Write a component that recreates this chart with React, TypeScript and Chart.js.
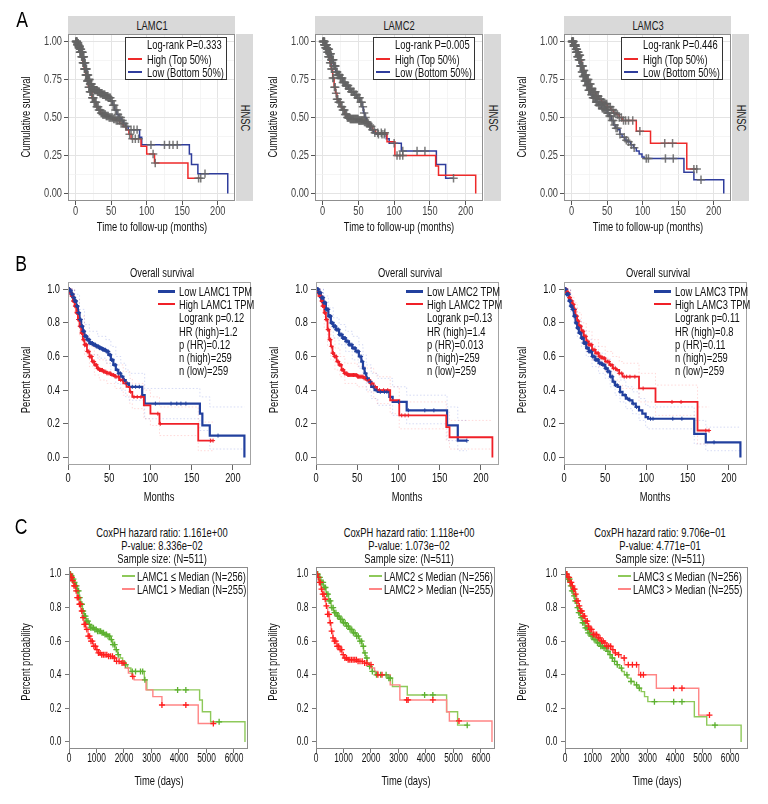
import React, { useEffect, useRef } from 'react';
import { Chart, registerables } from 'chart.js';

Chart.register(...registerables);

const FONT = '"Liberation Sans", Arial, Helvetica, sans-serif';

type P = [number, number];

// ---------------- Survival curves in months (rows A and B) ----------------
const LAMC1_LOW: P[] = [[0,1],[2,0.99],[4,0.97],[6,0.95],[8,0.93],[10,0.9],[12,0.86],[14,0.82],[16,0.78],[18,0.75],[20,0.72],[23,0.7],[26,0.68],[30,0.67],[34,0.66],[38,0.65],[42,0.64],[46,0.63],[49,0.61],[52,0.58],[55,0.55],[58,0.52],[61,0.5],[64,0.48],[67,0.46],[70,0.44],[74,0.42],[90,0.37],[93,0.32],[160,0.26],[163,0.19],[172,0.13],[214,0]];
const LAMC1_HIGH: P[] = [[0,1],[2,0.98],[4,0.96],[6,0.93],[8,0.9],[10,0.86],[12,0.82],[14,0.78],[16,0.74],[18,0.7],[20,0.67],[23,0.63],[26,0.6],[29,0.57],[32,0.55],[35,0.53],[38,0.52],[42,0.51],[47,0.5],[52,0.49],[57,0.48],[62,0.46],[67,0.44],[71,0.42],[75,0.39],[78,0.36],[92,0.31],[100,0.26],[111,0.2],[158,0.1],[176,0.1]];
const LAMC2_LOW: P[] = [[0,1],[3,0.98],[6,0.95],[9,0.92],[12,0.88],[15,0.84],[18,0.8],[21,0.78],[24,0.76],[28,0.73],[32,0.71],[36,0.69],[40,0.67],[44,0.65],[48,0.63],[52,0.6],[55,0.57],[57,0.53],[59,0.5],[61,0.47],[64,0.45],[67,0.42],[71,0.4],[75,0.39],[89,0.36],[93,0.33],[110,0.28],[159,0.19],[172,0.1],[183,0.1]];
const LAMC2_HIGH: P[] = [[0,1],[2,0.98],[4,0.96],[6,0.93],[8,0.9],[10,0.86],[12,0.82],[14,0.76],[16,0.7],[18,0.66],[20,0.62],[22,0.6],[25,0.57],[28,0.55],[31,0.52],[34,0.5],[38,0.49],[50,0.48],[58,0.47],[62,0.46],[66,0.44],[70,0.42],[74,0.4],[90,0.34],[101,0.25],[158,0.18],[162,0.12],[214,0]];
const LAMC3_LOW: P[] = [[0,1],[3,0.97],[6,0.93],[8,0.9],[10,0.88],[12,0.84],[14,0.8],[16,0.77],[18,0.74],[21,0.71],[24,0.68],[27,0.65],[30,0.63],[34,0.6],[38,0.58],[42,0.56],[46,0.55],[50,0.53],[53,0.51],[56,0.48],[59,0.45],[62,0.43],[65,0.42],[68,0.39],[71,0.37],[75,0.35],[79,0.34],[83,0.32],[87,0.3],[91,0.28],[95,0.26],[99,0.24],[102,0.23],[158,0.14],[172,0.09],[214,0]];
const LAMC3_HIGH: P[] = [[0,1],[3,0.98],[6,0.95],[8,0.93],[10,0.91],[12,0.88],[14,0.84],[16,0.81],[18,0.78],[21,0.75],[24,0.72],[27,0.69],[30,0.67],[34,0.64],[38,0.62],[42,0.6],[46,0.59],[50,0.57],[55,0.55],[59,0.53],[63,0.52],[67,0.5],[71,0.48],[91,0.41],[111,0.33],[162,0.16],[176,0.16]];

// censoring times (months)
const LAMC1_LOW_CENS = [0.4,0.9,1.4,1.9,2.5,3.1,3.6,4.2,4.7,5.2,5.8,6.3,6.9,7.5,8.0,8.6,9.2,9.8,10.4,11.0,11.6,12.2,12.8,13.5,14.1,14.8,15.4,16.1,16.8,17.5,18.2,18.9,19.6,20.3,21.0,21.8,22.5,23.3,24.1,24.9,25.7,26.5,27.3,28.1,29.0,29.8,30.7,31.6,32.5,33.4,34.3,35.2,36.2,37.1,38.1,39.1,40.1,41.1,42.2,43.2,44.3,45.4,46.5,47.7,48.9,50.1,51.4,52.8,54.3,56.0,57.8,59.6,61.5,63.6,66.0,68.5,72.0,78.0,82.0,86.5,106,125,132,137,143,182];
const LAMC1_HIGH_CENS = [0.6,1.1,1.7,2.2,2.8,3.3,3.9,4.4,5.0,5.5,6.1,6.6,7.2,7.8,8.4,9.0,9.6,10.2,10.9,11.5,12.2,12.8,13.5,14.2,14.9,15.6,16.3,17.0,17.8,18.5,19.3,20.1,20.9,21.7,22.5,23.4,24.2,25.1,26.0,26.9,27.8,28.8,29.7,30.7,31.7,32.7,33.8,34.8,35.9,37.0,38.2,39.4,40.6,41.8,43.1,44.4,45.8,47.2,48.7,50.2,51.8,53.5,55.3,57.2,59.2,61.4,64.0,66.5,70.5,76.0,80.0,84.0,88.5,109,112,173,176];
const LAMC2_LOW_CENS = [0.5,1.0,1.6,2.1,2.7,3.2,3.8,4.4,5.0,5.6,6.2,6.8,7.4,8.0,8.7,9.3,10.0,10.6,11.3,12.0,12.7,13.4,14.1,14.9,15.6,16.4,17.1,17.9,18.7,19.5,20.3,21.2,22.0,22.9,23.7,24.6,25.5,26.4,27.4,28.3,29.3,30.3,31.3,32.3,33.3,34.4,35.5,36.6,37.7,38.8,40.0,41.2,42.4,43.6,44.9,46.2,47.5,48.9,50.3,51.7,53.2,54.7,56.3,58.0,60.0,62.5,66.0,69.5,73.0,78.0,83.0,86.0,100,112,132,143,183];
const LAMC2_HIGH_CENS = [0.5,1.1,1.6,2.2,2.8,3.4,4.0,4.6,5.3,5.9,6.6,7.3,8.0,8.8,9.6,10.4,11.3,12.2,13.2,14.2,15.3,16.4,17.6,18.8,20.0,21.2,22.4,23.6,24.8,26.0,27.1,28.2,29.3,30.4,31.5,32.5,33.5,34.5,35.5,36.5,37.5,38.5,39.5,40.5,41.5,42.5,43.5,44.5,45.5,46.5,47.5,48.5,49.5,50.5,51.5,52.5,53.6,54.7,55.8,57.0,58.5,60.0,62.0,64.0,66.0,68.0,72.0,77.0,82.0,87.0,104,108,112];
const LAMC3_LOW_CENS = [0.4,0.9,1.4,1.9,2.4,3.0,3.5,4.1,4.6,5.2,5.8,6.4,7.0,7.6,8.2,8.9,9.5,10.2,10.9,11.6,12.3,13.0,13.8,14.5,15.3,16.1,16.9,17.7,18.6,19.4,20.3,21.2,22.1,23.0,24.0,24.9,25.9,26.9,27.9,29.0,30.0,31.1,32.2,33.3,34.5,35.6,36.8,38.0,39.3,40.5,41.8,43.1,44.5,45.9,47.3,48.7,50.2,51.7,53.3,55.0,56.8,58.6,60.5,62.5,64.5,68.0,74.0,77.0,80.0,84.0,88.0,105,108,132,143,182];
const LAMC3_HIGH_CENS = [0.6,1.2,1.8,2.4,3.0,3.6,4.2,4.8,5.4,6.1,6.7,7.4,8.1,8.8,9.5,10.2,11.0,11.7,12.5,13.3,14.1,15.0,15.8,16.7,17.6,18.5,19.4,20.4,21.4,22.4,23.4,24.4,25.5,26.6,27.7,28.8,30.0,31.2,32.4,33.6,34.9,36.2,37.5,38.8,40.2,41.6,43.1,44.6,46.1,47.7,49.3,51.0,52.7,54.5,56.3,58.2,60.2,62.3,64.5,67.0,70.0,73.0,76.0,80.0,86.0,96.0,131,142,172,176];

// 95% confidence bands (row B)
const LAMC1_LOW_UP: P[] = [[0,1],[8,0.97],[14,0.88],[20,0.79],[26,0.75],[36,0.72],[46,0.7],[52,0.66],[58,0.6],[64,0.56],[70,0.52],[74,0.5],[93,0.41],[160,0.36],[172,0.3],[214,0.3]];
const LAMC1_LOW_DN: P[] = [[0,1],[8,0.89],[14,0.76],[20,0.65],[26,0.61],[36,0.59],[46,0.56],[52,0.5],[58,0.44],[64,0.4],[70,0.36],[74,0.34],[93,0.23],[160,0.16],[172,0.05],[214,0.05]];
const LAMC1_HIGH_UP: P[] = [[0,1],[8,0.94],[14,0.84],[20,0.73],[26,0.66],[32,0.61],[38,0.58],[47,0.56],[57,0.55],[67,0.51],[75,0.47],[78,0.44],[92,0.4],[100,0.36],[111,0.3],[158,0.21],[176,0.21]];
const LAMC1_HIGH_DN: P[] = [[0,1],[8,0.86],[14,0.72],[20,0.61],[26,0.54],[32,0.49],[38,0.46],[47,0.44],[57,0.41],[67,0.37],[75,0.32],[78,0.29],[92,0.23],[100,0.19],[111,0.13],[158,0.04],[176,0.04]];
const LAMC2_LOW_UP: P[] = [[0,1],[9,0.96],[15,0.89],[21,0.83],[28,0.79],[36,0.75],[44,0.72],[52,0.67],[57,0.61],[61,0.55],[67,0.5],[75,0.47],[93,0.42],[110,0.37],[159,0.3],[172,0.22],[183,0.22]];
const LAMC2_LOW_DN: P[] = [[0,1],[9,0.88],[15,0.79],[21,0.71],[28,0.67],[36,0.63],[44,0.58],[52,0.53],[57,0.46],[61,0.4],[67,0.35],[75,0.31],[93,0.25],[110,0.2],[159,0.1],[172,0.04],[183,0.04]];
const LAMC2_HIGH_UP: P[] = [[0,1],[6,0.95],[10,0.88],[14,0.78],[18,0.71],[23,0.65],[29,0.6],[35,0.56],[50,0.54],[62,0.53],[70,0.5],[74,0.48],[90,0.42],[101,0.33],[158,0.27],[162,0.22],[214,0.22]];
const LAMC2_HIGH_DN: P[] = [[0,1],[6,0.87],[10,0.77],[14,0.66],[18,0.58],[23,0.52],[29,0.48],[35,0.44],[50,0.42],[62,0.39],[70,0.35],[74,0.32],[90,0.26],[101,0.17],[158,0.1],[162,0.05],[214,0.05]];
const LAMC3_LOW_UP: P[] = [[0,1],[8,0.94],[12,0.89],[16,0.82],[21,0.76],[27,0.7],[34,0.66],[42,0.62],[50,0.59],[56,0.55],[62,0.5],[68,0.46],[75,0.42],[83,0.39],[91,0.35],[99,0.31],[102,0.3],[158,0.22],[172,0.18],[214,0.18]];
const LAMC3_LOW_DN: P[] = [[0,1],[8,0.86],[12,0.79],[16,0.72],[21,0.66],[27,0.6],[34,0.54],[42,0.5],[50,0.47],[56,0.42],[62,0.37],[68,0.33],[75,0.29],[83,0.26],[91,0.22],[99,0.18],[102,0.17],[158,0.08],[172,0.04],[214,0.04]];
const LAMC3_HIGH_UP: P[] = [[0,1],[8,0.96],[12,0.92],[16,0.86],[21,0.8],[27,0.75],[34,0.7],[42,0.66],[50,0.63],[59,0.6],[67,0.57],[71,0.56],[91,0.5],[111,0.43],[162,0.3],[176,0.3]];
const LAMC3_HIGH_DN: P[] = [[0,1],[8,0.9],[12,0.84],[16,0.76],[21,0.69],[27,0.63],[34,0.58],[42,0.54],[50,0.51],[59,0.46],[67,0.43],[71,0.41],[91,0.33],[111,0.25],[162,0.08],[176,0.08]];

// ---------------- Survival curves in days (row C) ----------------
const C1_LOW: P[] = [[0,1],[60,0.99],[120,0.97],[180,0.95],[240,0.93],[300,0.9],[365,0.86],[425,0.82],[490,0.78],[550,0.75],[610,0.72],[700,0.7],[790,0.68],[910,0.67],[1030,0.66],[1160,0.65],[1280,0.64],[1400,0.63],[1490,0.61],[1580,0.58],[1670,0.55],[1770,0.52],[1860,0.5],[1950,0.48],[2040,0.46],[2130,0.44],[2250,0.42],[2740,0.37],[2830,0.31],[4750,0.25],[4850,0.18],[5150,0.12],[6400,0]];
const C1_HIGH: P[] = [[0,1],[60,0.98],[120,0.96],[180,0.93],[240,0.9],[300,0.86],[365,0.82],[425,0.78],[490,0.74],[550,0.7],[610,0.67],[700,0.63],[790,0.6],[880,0.57],[970,0.55],[1065,0.53],[1160,0.52],[1430,0.51],[1600,0.5],[1720,0.48],[1890,0.47],[2040,0.44],[2160,0.41],[2280,0.39],[2370,0.37],[2800,0.31],[3050,0.27],[3380,0.22],[4700,0.11],[5250,0.11]];
const C2_LOW: P[] = [[0,1],[90,0.98],[180,0.95],[270,0.92],[365,0.88],[460,0.84],[550,0.8],[640,0.77],[730,0.75],[850,0.73],[970,0.71],[1100,0.69],[1220,0.67],[1340,0.65],[1460,0.63],[1580,0.6],[1670,0.57],[1730,0.53],[1800,0.5],[1860,0.47],[1950,0.45],[2040,0.42],[2160,0.4],[2600,0.38],[2780,0.33],[3320,0.28],[4750,0.18],[5150,0.1],[5500,0.1]];
const C2_HIGH: P[] = [[0,1],[60,0.98],[120,0.95],[180,0.91],[240,0.88],[300,0.85],[365,0.81],[425,0.76],[490,0.71],[550,0.66],[610,0.62],[670,0.6],[760,0.57],[850,0.55],[940,0.52],[1030,0.5],[1160,0.49],[1520,0.48],[1760,0.47],[1890,0.46],[2010,0.44],[2130,0.42],[2250,0.4],[2700,0.34],[3050,0.25],[4750,0.18],[4850,0.125],[6400,0]];
const C3_LOW: P[] = [[0,1],[90,0.97],[180,0.93],[240,0.9],[300,0.87],[365,0.84],[425,0.8],[490,0.77],[550,0.74],[640,0.71],[730,0.68],[820,0.65],[910,0.63],[1030,0.61],[1160,0.59],[1280,0.57],[1400,0.56],[1520,0.54],[1610,0.52],[1700,0.5],[1800,0.48],[1890,0.46],[1980,0.44],[2070,0.42],[2160,0.4],[2280,0.38],[2400,0.36],[2520,0.34],[2650,0.32],[2770,0.3],[2890,0.27],[3010,0.24],[4700,0.15],[5150,0.1],[6400,0]];
const C3_HIGH: P[] = [[0,1],[90,0.98],[180,0.95],[240,0.93],[300,0.91],[365,0.88],[425,0.84],[490,0.81],[550,0.78],[640,0.75],[730,0.72],[820,0.69],[910,0.67],[1030,0.64],[1160,0.62],[1280,0.6],[1400,0.59],[1520,0.57],[1670,0.55],[1790,0.53],[1920,0.52],[2040,0.5],[2160,0.46],[2680,0.4],[3320,0.32],[4860,0.16],[5250,0.16]];

const C1_LOW_CENS = [25,55,90,120,160,200,240,275,310,350,390,430,470,515,560,600,645,690,740,790,840,890,940,990,1040,1095,1150,1200,1255,1310,1365,1420,1480,1540,1600,1660,1720,1790,2060,2300,2420,2600,2680,2760,3950,4250,5460];
const C1_HIGH_CENS = [35,70,105,140,180,220,260,300,340,380,420,465,510,555,600,650,700,750,800,850,905,960,1015,1070,1130,1190,1250,1310,1375,1440,1510,1580,1650,1730,1820,1930,2000,2320,3380,4250,5250];
const C2_LOW_CENS = [30,65,100,140,180,220,260,300,345,390,435,480,525,575,625,675,725,780,835,890,945,1000,1060,1120,1180,1240,1300,1360,1420,1480,1540,1600,1660,1720,1780,1850,1950,2050,2200,2350,2550,2650,2700,3950,4250,5500];
const C2_HIGH_CENS = [40,80,120,160,200,245,290,335,380,425,470,520,570,620,670,720,770,825,880,935,990,1050,1110,1170,1230,1290,1350,1410,1470,1530,1600,1680,1770,1850,2000,2250,2400,3300,3350,4250,5200];
const C3_LOW_CENS = [25,60,95,130,170,210,250,290,330,370,410,455,500,545,590,640,690,740,790,840,895,950,1005,1060,1120,1180,1240,1300,1360,1420,1490,1560,1640,1720,1800,1900,2050,2250,2400,2600,2700,3250,3950,4250,5450];
const C3_HIGH_CENS = [35,70,110,150,190,230,270,310,350,390,430,475,520,565,610,660,710,760,810,860,915,970,1030,1090,1150,1210,1270,1330,1390,1450,1520,1590,1660,1740,1830,1950,2150,2300,2450,2600,2750,2850,3950,4250,5250];

// ---------------- Tick values and labels ----------------
const A_X_TICKS = [0, 50, 100, 150, 200];
const A_X_LABELS = ['0', '50', '100', '150', '200'];
const A_X_MINOR = [25, 75, 125, 175];
const A_Y_TICKS = [0, 0.25, 0.5, 0.75, 1];
const A_Y_LABELS = ['0.00', '0.25', '0.50', '0.75', '1.00'];
const A_Y_MINOR = [0.125, 0.375, 0.625, 0.875];
const B_X_TICKS = [0, 50, 100, 150, 200];
const B_X_LABELS = ['0', '50', '100', '150', '200'];
const B_Y_TICKS = [0, 0.2, 0.4, 0.6, 0.8, 1];
const B_Y_LABELS = ['0.0', '0.2', '0.4', '0.6', '0.8', '1.0'];
const C_X_TICKS = [0, 1000, 2000, 3000, 4000, 5000, 6000];
const C_X_LABELS = ['0', '1000', '2000', '3000', '4000', '5000', '6000'];
const C_Y_TICKS = [0, 0.2, 0.4, 0.6, 0.8, 1];
const C_Y_LABELS = ['0.0', '0.2', '0.4', '0.6', '0.8', '1.0'];

// ---------------- Texts ----------------
const GENES = ['LAMC1', 'LAMC2', 'LAMC3'];
const A_PVALUES = ['0.333', '0.005', '0.446'];
const B_LOGRANK = ['0.12', '0.13', '0.11'];
const B_HR = ['1.2', '1.4', '0.8'];
const B_PHR = ['0.12', '0.013', '0.11'];
const B_N_HIGH = ['259', '259', '259'];
const B_N_LOW = ['259', '259', '259'];
const C_HR = ['1.161e+00', '1.118e+00', '9.706e\u221201'];
const C_PV = ['8.336e\u221202', '1.073e\u221202', '4.771e\u221201'];
const C_N_LOW = ['256', '256', '256'];
const C_N_HIGH = ['255', '255', '255'];

const CURVES_M = [
  { low: LAMC1_LOW, high: LAMC1_HIGH, lowC: LAMC1_LOW_CENS, highC: LAMC1_HIGH_CENS, lu: LAMC1_LOW_UP, ld: LAMC1_LOW_DN, hu: LAMC1_HIGH_UP, hd: LAMC1_HIGH_DN },
  { low: LAMC2_LOW, high: LAMC2_HIGH, lowC: LAMC2_LOW_CENS, highC: LAMC2_HIGH_CENS, lu: LAMC2_LOW_UP, ld: LAMC2_LOW_DN, hu: LAMC2_HIGH_UP, hd: LAMC2_HIGH_DN },
  { low: LAMC3_LOW, high: LAMC3_HIGH, lowC: LAMC3_LOW_CENS, highC: LAMC3_HIGH_CENS, lu: LAMC3_LOW_UP, ld: LAMC3_LOW_DN, hu: LAMC3_HIGH_UP, hd: LAMC3_HIGH_DN },
];
const CURVES_D = [
  { low: C1_LOW, high: C1_HIGH, lowC: C1_LOW_CENS, highC: C1_HIGH_CENS },
  { low: C2_LOW, high: C2_HIGH, lowC: C2_LOW_CENS, highC: C2_HIGH_CENS },
  { low: C3_LOW, high: C3_HIGH, lowC: C3_LOW_CENS, highC: C3_HIGH_CENS },
];

// ---------------- Layout ----------------
interface Frame { x: number; y: number; w: number; h: number }
const A_FRAMES: Frame[] = [{ x: 68, y: 34, w: 167, h: 167 }, { x: 315, y: 34, w: 168, h: 167 }, { x: 564, y: 34, w: 167, h: 167 }];
const B_FRAMES: Frame[] = [{ x: 68, y: 282, w: 183, h: 183 }, { x: 316, y: 282, w: 183, h: 183 }, { x: 564, y: 282, w: 183, h: 183 }];
const C_FRAMES: Frame[] = [{ x: 69, y: 567, w: 179, h: 182 }, { x: 316, y: 567, w: 179, h: 182 }, { x: 565, y: 567, w: 183, h: 182 }];
const C_XMAX = [6510, 6510, 6650];

const ML = 56, MT = 12, MR = 8, MB = 26;
const SX = 0.72; // horizontal condensing of text
const FS = 13;

const A_RED = '#ee2a2a', A_BLUE = '#2f3d9c', A_GRAY = 'rgba(100,100,100,0.85)';
const B_RED = '#f02028', B_BLUE = '#22409e';
const C_GREEN_LINE = '#8ec95a', C_GREEN_MARK = '#5cb030', C_RED_LINE = '#ff8585', C_RED_MARK = '#ff1f1f';

function stepAt(curve: P[], t: number): number {
  let s = curve[0][1];
  for (const [x, y] of curve) { if (x <= t) s = y; else break; }
  return s;
}

const line = (pts: P[], color: string, width: number, dash: number[] = []) => ({
  data: pts.map(([x, y]) => ({ x, y })), borderColor: color, borderWidth: width, stepped: 'before',
  pointRadius: 0, fill: false, borderDash: dash, showLine: true,
});
const marks = (curve: P[], times: number[], color: string, r: number, w: number) => ({
  data: times.map((t) => ({ x: t, y: stepAt(curve, t) })), showLine: false, pointStyle: 'cross',
  pointRadius: r, pointBorderColor: color, pointBorderWidth: w, borderColor: color, backgroundColor: color,
});

interface Spec {
  frame: Frame; xMin: number; xMax: number; yMin: number; yMax: number;
  xTicks: number[]; xLabels: string[]; xMinor: number[];
  yTicks: number[]; yLabels: string[]; yMinor: number[];
  grid: boolean; frameColor: string; tickColor: string; labelColor: string;
  tl: number; xPad: number; yPad: number; fontSize: number; squeeze: number; datasets: any[];
}

const SPECS: Spec[] = [];
for (let g = 0; g < 3; g++) {
  const c = CURVES_M[g];
  SPECS.push({
    frame: A_FRAMES[g], xMin: -10.7, xMax: 224.2, yMin: -0.05, yMax: 1.05,
    xTicks: A_X_TICKS, xLabels: A_X_LABELS, xMinor: A_X_MINOR, yTicks: A_Y_TICKS, yLabels: A_Y_LABELS, yMinor: A_Y_MINOR,
    grid: true, frameColor: '#8f8f8f', tickColor: '#555', labelColor: '#444', tl: 4, xPad: 0, yPad: 2,
    fontSize: 12.5, squeeze: 0.74,
    datasets: [
      marks(c.low, c.lowC, A_GRAY, 4.2, 1.5),
      marks(c.high, c.highC, A_GRAY, 4.2, 1.5),
      line(c.high, A_RED, 1.5),
      line(c.low, A_BLUE, 1.5),
    ],
  });
}
for (let g = 0; g < 3; g++) {
  const c = CURVES_M[g];
  SPECS.push({
    frame: B_FRAMES[g], xMin: 0, xMax: 222, yMin: -0.045, yMax: 1.043,
    xTicks: B_X_TICKS, xLabels: B_X_LABELS, xMinor: [], yTicks: B_Y_TICKS, yLabels: B_Y_LABELS, yMinor: [],
    grid: false, frameColor: '#a3a3a3', tickColor: '#666', labelColor: '#111', tl: 5, xPad: 2, yPad: 3,
    fontSize: 12.5, squeeze: 0.74,
    datasets: [
      marks(c.low, c.lowC, B_BLUE, 2, 1),
      marks(c.high, c.highC, B_RED, 2, 1),
      line(c.high, B_RED, 1.8),
      line(c.low, B_BLUE, 2.2),
      line(c.lu, 'rgba(70,90,210,0.22)', 1, [1.5, 2]),
      line(c.ld, 'rgba(70,90,210,0.22)', 1, [1.5, 2]),
      line(c.hu, 'rgba(255,80,80,0.22)', 1, [1.5, 2]),
      line(c.hd, 'rgba(255,80,80,0.22)', 1, [1.5, 2]),
    ],
  });
}
for (let g = 0; g < 3; g++) {
  const c = CURVES_D[g];
  SPECS.push({
    frame: C_FRAMES[g], xMin: 0, xMax: C_XMAX[g], yMin: -0.042, yMax: 1.042,
    xTicks: C_X_TICKS, xLabels: C_X_LABELS, xMinor: [], yTicks: C_Y_TICKS, yLabels: C_Y_LABELS, yMinor: [],
    grid: false, frameColor: '#8c8c8c', tickColor: '#777', labelColor: '#111', tl: 4, xPad: 0, yPad: 3.5,
    fontSize: 12, squeeze: 0.7,
    datasets: [
      marks(c.high, c.highC, C_RED_MARK, 3, 1.3),
      marks(c.low, c.lowC, C_GREEN_MARK, 3, 1.3),
      line(c.high, C_RED_LINE, 1.4),
      line(c.low, C_GREEN_LINE, 1.4),
    ],
  });
}

const framePlugin = (color: string) => ({
  id: 'frameBox',
  afterDatasetsDraw(chart: any) {
    const { ctx, chartArea: a } = chart;
    ctx.save();
    ctx.strokeStyle = color;
    ctx.lineWidth = 1;
    const l = Math.round(a.left), t = Math.round(a.top), r = Math.round(a.right), b = Math.round(a.bottom);
    ctx.strokeRect(l + 0.5, t + 0.5, r - l - 1, b - t - 1);
    ctx.restore();
  },
});

// draws the tick label text condensed around its anchor point
const condensePlugin = (sx: number) => ({
  id: 'condenseText',
  beforeInit(chart: any) {
    const ctx = chart.ctx;
    const orig = ctx.fillText;
    ctx.fillText = function (text: string, x: number, y: number) {
      this.save();
      this.translate(x, y);
      this.scale(sx, 1);
      orig.call(this, text, 0, 0);
      this.restore();
    };
  },
});

function buildChart(canvas: HTMLCanvasElement, s: Spec) {
  const near = (a: number, b: number) => Math.abs(a - b) < 1e-9;
  const mkScale = (axis: 'x' | 'y') => {
    const ticks = axis === 'x' ? s.xTicks : s.yTicks;
    const labels = axis === 'x' ? s.xLabels : s.yLabels;
    const minor = axis === 'x' ? s.xMinor : s.yMinor;
    const all = [...ticks, ...minor].sort((a, b) => a - b);
    const isMaj = (v: number) => ticks.some((t) => near(t, v));
    return {
      type: 'linear',
      min: axis === 'x' ? s.xMin : s.yMin,
      max: axis === 'x' ? s.xMax : s.yMax,
      afterBuildTicks: (sc: any) => { sc.ticks = all.map((v) => ({ value: v })); },
      afterFit: (sc: any) => { if (axis === 'x') sc.height = MB; else sc.width = ML; },
      ticks: {
        autoSkip: false, maxRotation: 0, minRotation: 0,
        padding: axis === 'x' ? s.xPad : s.yPad,
        color: s.labelColor,
        font: { family: FONT, size: s.fontSize, lineHeight: 1 },
        callback: (v: number) => { const i = ticks.findIndex((t) => near(t, v)); return i >= 0 ? labels[i] : ''; },
      },
      grid: {
        display: true, drawOnChartArea: s.grid, drawTicks: true, tickLength: s.tl, tickWidth: 1,
        color: (c: any) => (c.tick && isMaj(c.tick.value) ? '#e4e4e4' : '#f1f1f1'),
        lineWidth: (c: any) => (c.tick && isMaj(c.tick.value) ? 1 : 0.7),
        tickColor: (c: any) => (c.tick && isMaj(c.tick.value) ? s.tickColor : 'rgba(0,0,0,0)'),
      },
      border: { display: false },
    };
  };
  return new Chart(canvas, {
    type: 'line',
    data: { datasets: s.datasets },
    options: {
      responsive: false, maintainAspectRatio: false, animation: false, events: [],
      layout: { padding: { top: MT, right: MR, bottom: 0, left: 0 } },
      plugins: { legend: { display: false }, tooltip: { enabled: false }, title: { display: false } },
      scales: { x: mkScale('x'), y: mkScale('y') },
    } as any,
    plugins: [condensePlugin(s.squeeze), framePlugin(s.frameColor)],
  } as any);
}

function Txt(props: { x: number; y: number; text: string; size?: number; anchor?: 'start' | 'middle'; rot?: number; color?: string; sx?: number }) {
  const { x, y, text, size = FS, anchor = 'middle', rot = 0, color = '#111', sx = SX } = props;
  const tx = anchor === 'middle' ? '-50%' : '0';
  return (
    <div style={{
      position: 'absolute', left: x, top: y,
      transform: `translate(${tx},-50%) rotate(${rot}deg) scaleX(${sx})`,
      transformOrigin: anchor === 'middle' ? '50% 50%' : '0 50%',
      fontFamily: FONT, fontSize: size, lineHeight: 1, whiteSpace: 'pre', color,
    }}>{text}</div>
  );
}

function Seg(props: { x: number; y: number; w: number; t: number; color: string }) {
  const { x, y, w, t, color } = props;
  return <div style={{ position: 'absolute', left: x, top: y - t / 2, width: w, height: t, background: color }} />;
}

export default function App() {
  const refs = useRef<(HTMLCanvasElement | null)[]>([]);
  useEffect(() => {
    const charts = SPECS.map((s, i) => buildChart(refs.current[i] as HTMLCanvasElement, s));
    return () => charts.forEach((c) => c.destroy());
  }, []);

  const overlays: React.ReactNode[] = [];
  overlays.push(<Txt key="lA" x={21.5} y={20} text="A" size={22} color="#000" sx={0.8} />);
  overlays.push(<Txt key="lB" x={20.5} y={264} text="B" size={22} color="#000" sx={0.8} />);
  overlays.push(<Txt key="lC" x={21} y={527} text="C" size={22} color="#000" sx={0.8} />);

  for (let g = 0; g < 3; g++) {
    // ---- Row A ----
    const fa = A_FRAMES[g];
    overlays.push(<div key={`ah${g}`} style={{ position: 'absolute', left: fa.x, top: 16, width: fa.w, height: 18, background: '#d9d9d9' }} />);
    overlays.push(<Txt key={`aht${g}`} x={fa.x + fa.w / 2} y={25} text={GENES[g]} color="#1a1a1a" />);
    overlays.push(<div key={`as${g}`} style={{ position: 'absolute', left: fa.x + fa.w + 1, top: fa.y, width: 17, height: fa.h, background: '#d9d9d9' }} />);
    overlays.push(<Txt key={`ast${g}`} x={fa.x + fa.w + 9.5} y={fa.y + fa.h / 2} text="HNSC" rot={90} color="#1a1a1a" />);
    overlays.push(<Txt key={`ay${g}`} x={fa.x - 43} y={117} text="Cumulative survival" rot={-90} />);
    overlays.push(<Txt key={`ax${g}`} x={fa.x + fa.w / 2} y={226} text="Time to follow-up (months)" />);
    const bx = fa.x + fa.w - 110;
    overlays.push(<div key={`alb${g}`} style={{ position: 'absolute', left: bx, top: 37, width: 102, height: 43, background: '#fff', border: '1px solid #333', boxSizing: 'border-box' }} />);
    overlays.push(<Txt key={`al0${g}`} x={bx + 22} y={43.5} text={`Log-rank P=${A_PVALUES[g]}`} anchor="start" />);
    overlays.push(<Seg key={`als1${g}`} x={bx + 3} y={59} w={14} t={1.6} color={A_RED} />);
    overlays.push(<Txt key={`al1${g}`} x={bx + 22} y={59} text="High (Top 50%)" anchor="start" />);
    overlays.push(<Seg key={`als2${g}`} x={bx + 3} y={72} w={14} t={1.6} color={A_BLUE} />);
    overlays.push(<Txt key={`al2${g}`} x={bx + 22} y={72} text="Low (Bottom 50%)" anchor="start" />);

    // ---- Row B ----
    const fb = B_FRAMES[g];
    overlays.push(<Txt key={`bt${g}`} x={fb.x + fb.w / 2 + 2} y={272} text="Overall survival" />);
    overlays.push(<Txt key={`by${g}`} x={fb.x - 43} y={380} text="Percent survival" rot={-90} />);
    overlays.push(<Txt key={`bx${g}`} x={fb.x + fb.w / 2 - 1} y={496} text="Months" />);
    const lx = fb.x + 111;
    const rows = [`Low ${GENES[g]} TPM`, `High ${GENES[g]} TPM`, `Logrank p=${B_LOGRANK[g]}`, `HR (high)=${B_HR[g]}`, `p (HR)=${B_PHR[g]}`, `n (high)=${B_N_HIGH[g]}`, `n (low)=${B_N_LOW[g]}`];
    rows.forEach((r, i) => overlays.push(<Txt key={`bl${g}_${i}`} x={lx} y={291 + i * 13.2} text={r} anchor="start" />));
    overlays.push(<Seg key={`bls1${g}`} x={lx - 21} y={291} w={17} t={3} color={B_BLUE} />);
    overlays.push(<Seg key={`bls2${g}`} x={lx - 21} y={304.2} w={17} t={2} color={B_RED} />);

    // ---- Row C ----
    const fc = C_FRAMES[g];
    const cx = fc.x + fc.w / 2 + 3;
    overlays.push(<Txt key={`ct0${g}`} x={cx} y={532} text={`CoxPH hazard ratio: ${C_HR[g]}`} />);
    overlays.push(<Txt key={`ct1${g}`} x={cx} y={545} text={`P-value: ${C_PV[g]}`} />);
    overlays.push(<Txt key={`ct2${g}`} x={cx} y={558} text="Sample size: (N=511)" />);
    overlays.push(<Txt key={`cy${g}`} x={fc.x - 44} y={662} text="Percent probability" rot={-90} />);
    overlays.push(<Txt key={`cx${g}`} x={fc.x + fc.w / 2} y={780} text="Time (days)" />);
    const clx = fc.x + 68;
    overlays.push(<Seg key={`cls1${g}`} x={clx - 15} y={576} w={13} t={2.5} color={C_GREEN_LINE} />);
    overlays.push(<Txt key={`cl1${g}`} x={clx} y={576} text={`${GENES[g]} \u2264 Median (N=${C_N_LOW[g]})`} anchor="start" />);
    overlays.push(<Seg key={`cls2${g}`} x={clx - 15} y={589} w={13} t={2.5} color={C_RED_LINE} />);
    overlays.push(<Txt key={`cl2${g}`} x={clx} y={589} text={`${GENES[g]} > Median (N=${C_N_HIGH[g]})`} anchor="start" />);
  }

  return (
    <div style={{ position: 'absolute', left: 0, top: 0, width: 768, height: 804, background: '#fff', overflow: 'hidden' }}>
      {SPECS.map((s, i) => (
        <canvas
          key={i}
          ref={(el) => { refs.current[i] = el; }}
          width={ML + s.frame.w + MR}
          height={MT + s.frame.h + MB}
          style={{ position: 'absolute', left: s.frame.x - ML, top: s.frame.y - MT }}
        />
      ))}
      {overlays}
    </div>
  );
}
